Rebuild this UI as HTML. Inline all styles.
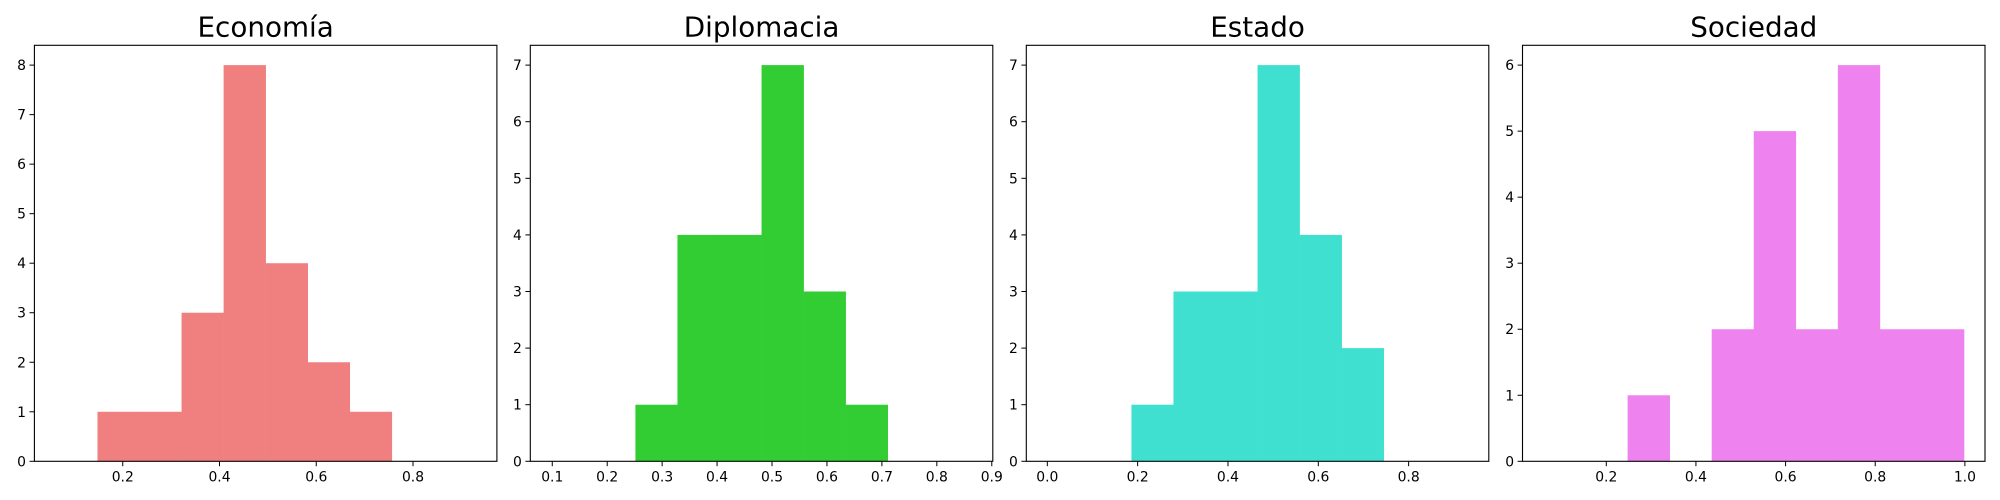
<!DOCTYPE html>
<html><head><meta charset="utf-8"><style>
html,body{margin:0;padding:0;background:#fff;}
svg{display:block;font-family:"DejaVu Sans","Liberation Sans",sans-serif;}
</style></head>
<body>
<svg id="chart" width="2000" height="500" viewBox="0 0 2000 500" xmlns="http://www.w3.org/2000/svg"></svg>
<script>
const titles = ["Economía", "Diplomacia", "Estado", "Sociedad"];
const colors = ["#F08080", "#32CD32", "#40E0D0", "#EE82EE"];
const binMins = [0.0608, 0.0983, 0.0, 0.06];
const binMaxs = [0.93, 0.8636, 0.931, 0.998];
const countsEconomia = [0, 1, 1, 3, 8, 4, 2, 1, 0, 0];
const countsDiplomacia = [0, 0, 1, 4, 4, 7, 3, 1, 0, 0];
const countsEstado = [0, 0, 1, 3, 3, 7, 4, 2, 0, 0];
const countsSociedad = [0, 0, 1, 0, 2, 5, 2, 6, 2, 2];
const xTicksEconomia = [0.2, 0.4, 0.6, 0.8];
const xTicksDiplomacia = [0.1, 0.2, 0.3, 0.4, 0.5, 0.6, 0.7, 0.8, 0.9];
const xTicksEstado = [0.0, 0.2, 0.4, 0.6, 0.8];
const xTicksSociedad = [0.2, 0.4, 0.6, 0.8, 1.0];

const allCounts = [countsEconomia, countsDiplomacia, countsEstado, countsSociedad];
const allXTicks = [xTicksEconomia, xTicksDiplomacia, xTicksEstado, xTicksSociedad];
const panelLefts = [34.4, 530.3, 1026.3, 1522.5];
const panelW = 462.5, axTop = 45.3, axBottom = 461.3;
const svg = document.getElementById('chart');
const NS = 'http://www.w3.org/2000/svg';
function mk(tag, attrs, parent) {
  const e = document.createElementNS(NS, tag);
  for (const k in attrs) e.setAttribute(k, attrs[k]);
  parent.appendChild(e);
  return e;
}
const slug = ['economia','diplomacia','estado','sociedad'];
for (let p = 0; p < 4; p++) {
  const g = mk('g', {}, svg);
  
  
  const counts = allCounts[p];
  const lo = binMins[p], hi = binMaxs[p];
  const n = counts.length, bw = (hi - lo) / n;
  const margin = (hi - lo) * 0.05;
  const xmin = lo - margin, xmax = hi + margin;
  const ymax = Math.max(...counts) * 1.05;
  const L = panelLefts[p];
  const xs = v => L + (v - xmin) / (xmax - xmin) * panelW;
  const ys = v => axBottom - v / ymax * (axBottom - axTop);
  for (let i = 0; i < n; i++) {
    if (counts[i] <= 0) continue;
    const x0 = xs(lo + i * bw), x1 = xs(lo + (i + 1) * bw);
    const r = mk('rect', {x: x0, y: ys(counts[i]), width: x1 - x0 + 0.3, height: axBottom - ys(counts[i]), fill: colors[p]}, g);
    
    
  }
  const frame = mk('rect', {x: L, y: axTop, width: panelW, height: axBottom - axTop, fill: 'none', stroke: '#000', 'stroke-width': 1.1}, g);
  
  
  allXTicks[p].forEach(t => {
    const x = xs(t);
    mk('line', {x1: x, x2: x, y1: axBottom, y2: axBottom + 4.9, stroke: '#000', 'stroke-width': 1}, g);
    const tx = mk('text', {x: x, y: axBottom + 20, 'font-size': 13.9, 'text-anchor': 'middle', fill: '#000'}, g);
    tx.textContent = t.toFixed(1);
    
    
  });
  for (let t = 0; t <= Math.max(...counts); t++) {
    const y = ys(t);
    mk('line', {x1: L - 4.9, x2: L, y1: y, y2: y, stroke: '#000', 'stroke-width': 1}, g);
    const ty = mk('text', {x: L - 8.4, y: y + 5, 'font-size': 13.9, 'text-anchor': 'end', fill: '#000'}, g);
    ty.textContent = String(t);
    
    
  }
  const tt = mk('text', {x: L + panelW / 2, y: 36.5, 'font-size': 27.8, 'text-anchor': 'middle', fill: '#000'}, g);
  tt.textContent = titles[p];
  
  
}
</script>
</body></html>
